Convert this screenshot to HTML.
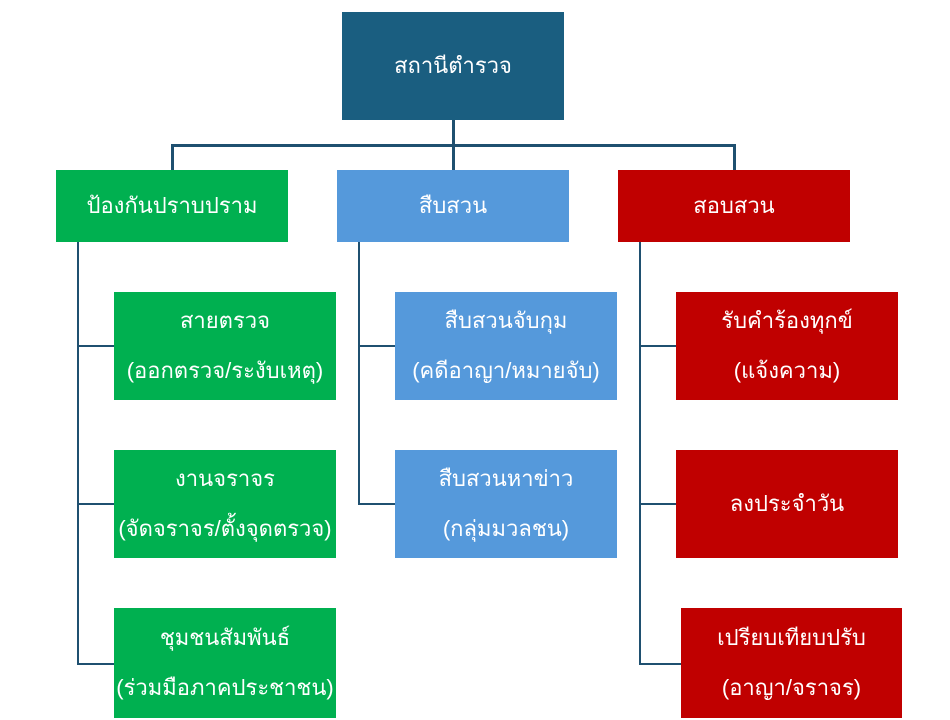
<!DOCTYPE html>
<html><head><meta charset="utf-8"><style>
body{margin:0;width:950px;height:720px;background:#fff;position:relative;overflow:hidden;font-family:"Liberation Sans","DejaVu Sans",sans-serif;}
.b{position:absolute;color:#fff;display:flex;flex-direction:column;justify-content:center;align-items:center;text-align:center;font-size:22px;line-height:50px;white-space:nowrap;}
.g{background:#00b050}.u{background:#5599db}.r{background:#c00000}
.l{position:absolute;background:#1f5070}
</style></head><body>
<div class="b" style="left:342px;top:12px;width:222px;height:108px;background:#1a5e80">สถานีตำรวจ</div>
<div class="l" style="left:452px;top:120px;width:3px;height:50px"></div>
<div class="l" style="left:171px;top:144px;width:565px;height:3px"></div>
<div class="l" style="left:171px;top:144px;width:3px;height:26px"></div>
<div class="l" style="left:733px;top:144px;width:3px;height:26px"></div>

<div class="b g" style="left:56px;top:170px;width:232px;height:72px">ป้องกันปราบปราม</div>
<div class="b u" style="left:337px;top:170px;width:232px;height:72px">สืบสวน</div>
<div class="b r" style="left:618px;top:170px;width:232px;height:72px">สอบสวน</div>

<div class="l" style="left:77px;top:242px;width:2px;height:423px"></div>
<div class="l" style="left:77px;top:345px;width:37px;height:2px"></div>
<div class="l" style="left:77px;top:503px;width:37px;height:2px"></div>
<div class="l" style="left:77px;top:663px;width:37px;height:2px"></div>

<div class="l" style="left:358px;top:242px;width:2px;height:263px"></div>
<div class="l" style="left:358px;top:345px;width:37px;height:2px"></div>
<div class="l" style="left:358px;top:503px;width:37px;height:2px"></div>

<div class="l" style="left:639px;top:242px;width:2px;height:423px"></div>
<div class="l" style="left:639px;top:345px;width:37px;height:2px"></div>
<div class="l" style="left:639px;top:503px;width:37px;height:2px"></div>
<div class="l" style="left:639px;top:663px;width:42px;height:2px"></div>

<div class="b g" style="left:114px;top:292px;width:222px;height:108px"><div>สายตรวจ</div><div>(ออกตรวจ/ระงับเหตุ)</div></div>
<div class="b g" style="left:114px;top:450px;width:222px;height:108px"><div>งานจราจร</div><div>(จัดจราจร/ตั้งจุดตรวจ)</div></div>
<div class="b g" style="left:114px;top:608px;width:222px;height:110px"><div>ชุมชนสัมพันธ์</div><div>(ร่วมมือภาคประชาชน)</div></div>

<div class="b u" style="left:395px;top:292px;width:222px;height:108px"><div>สืบสวนจับกุม</div><div>(คดีอาญา/หมายจับ)</div></div>
<div class="b u" style="left:395px;top:450px;width:222px;height:108px"><div>สืบสวนหาข่าว</div><div>(กลุ่มมวลชน)</div></div>

<div class="b r" style="left:676px;top:292px;width:222px;height:108px"><div>รับคำร้องทุกข์</div><div>(แจ้งความ)</div></div>
<div class="b r" style="left:676px;top:450px;width:222px;height:108px"><div>ลงประจำวัน</div></div>
<div class="b r" style="left:681px;top:608px;width:221px;height:110px"><div>เปรียบเทียบปรับ</div><div>(อาญา/จราจร)</div></div>
</body></html>
